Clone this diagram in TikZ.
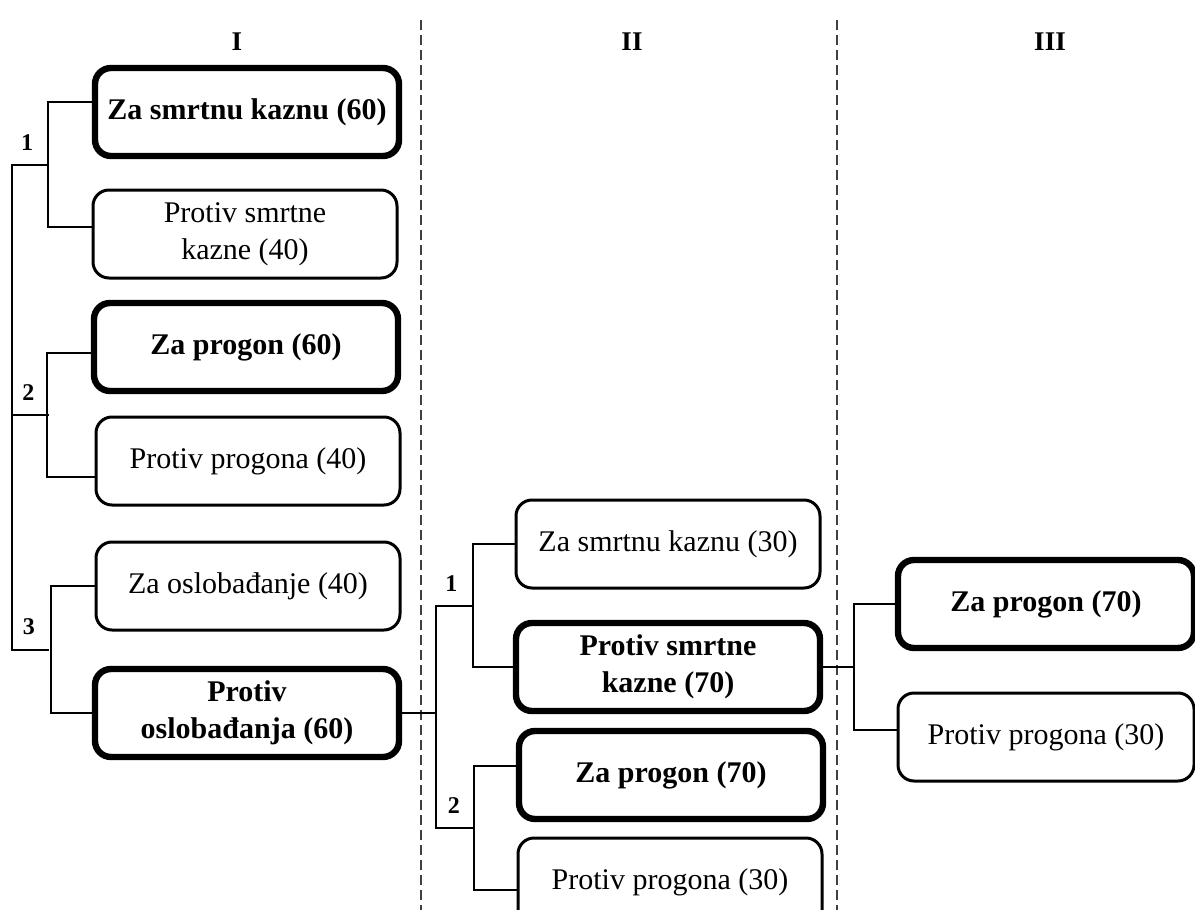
\documentclass[tikz,border=0pt]{standalone}
\usepackage{fontspec}
\setmainfont{Liberation Serif}
\usepackage{tikz}
\usetikzlibrary{
  positioning,
  calc
}

\begin{document}
\begin{tikzpicture}[x=0.5pt, y=-0.5pt,
  opt/.style={draw, rounded corners=8pt, line width=1.5pt, minimum width=152pt,
              minimum height=44pt, align=center, inner sep=2pt,
              font=\fontsize{15}{18.5}\selectfont},
  optwin/.style={opt, line width=3.2pt, font=\fontsize{15}{18.5}\selectfont\bfseries},
  optr/.style={minimum width=148pt},
  link/.style={line width=1pt},
  num/.style={font=\fontsize{12}{12}\selectfont\bfseries, inner sep=0pt},
  hdr/.style={font=\fontsize{13.5}{13.5}\selectfont\bfseries},
  colsep/.style={line width=0.6pt, gray!50!black, dash pattern=on 5pt off 2.5pt},
]
  \useasboundingbox (0,0) rectangle (1195,910);
  \clip (0,0) rectangle (1195,910);

  % Headers and dividers
  \node[hdr] (h1) at (237,42) {I};
  \node[hdr] (h2) at (632,42) {II};
  \node[hdr] (h3) at (1050,42) {III};
  \draw[colsep] (421,20) -- (421,910);
  \draw[colsep] (837,20) -- (837,910);

  % Round I
  \node[optwin] (p1) at (247,112) {Za smrtnu kaznu (60)};
  \node[opt]    (p2) at (245,234) {Protiv smrtne\\kazne (40)};
  \node[optwin] (p3) at (246,347) {Za progon (60)};
  \node[opt]    (p4) at (248,461) {Protiv progona (40)};
  \node[opt]    (p5) at (248,586) {Za oslobađanje (40)};
  \node[optwin] (p6) at (247,713) {Protiv\\oslobađanja (60)};

  \coordinate (e1) at ([yshift=5pt]p1.west);
  \coordinate (e2) at ([yshift=3.5pt]p2.west);
  \coordinate (e3) at ([yshift=-3pt]p3.west);
  \coordinate (e4) at ([yshift=-8pt]p4.west);
  \coordinate (j1) at ($(e1)!.5!(e2)+(-44,0)$);
  \coordinate (j2) at ($(e3)!.5!(e4)+(-44,0)$);
  \coordinate (j3) at ($(p5.west)!.5!(p6.west)+(-44,0)$);
  \coordinate (root) at (12,0);
  \draw[link] (e1) -- ++(-44,0) |- (e2);
  \draw[link] (e3) -- ++(-44,0) |- (e4);
  \draw[link] (p5.west) -- ++(-44,0) |- (p6.west);
  \draw[link] (j1) -- (j1 -| root) -- (j3 -| root) -- (j3);
  \draw[link] (j2 -| root) -- (j2);
  \node[num, above left=7pt and 7pt of j1] (n1) {1};
  \node[num, above left=7pt and 7pt of j2] (n2) {2};
  \node[num, above left=7pt and 7pt of j3] (n3) {3};

  % Round II
  \node[opt]    (q1) at (668,544) {Za smrtnu kaznu (30)};
  \node[optwin] (q2) at (668,667) {Protiv smrtne\\kazne (70)};
  \node[optwin] (q3) at (671,775) {Za progon (70)};
  \node[opt]    (q4) at (670,882) {Protiv progona (30)};

  \coordinate (e5) at ([yshift=4.5pt]q3.west);
  \coordinate (e6) at ([yshift=-4pt]q4.west);
  \coordinate (j4) at ($(q1.west)!.5!(q2.west)+(-42,0)$);
  \coordinate (j5) at ($(e5)!.5!(e6)+(-42,0)$);
  \coordinate (trunk) at (436,0);
  \draw[link] (q1.west) -- ++(-42,0) |- (q2.west);
  \draw[link] (e5) -- ++(-42,0) |- (e6);
  \draw[link] (p6.east) -- (p6.east -| trunk);
  \draw[link] (j4) -- (j4 -| trunk) -- (j5 -| trunk) -- (j5);
  \node[num, above left=7pt and 7pt of j4] (n4) {1};
  \node[num, above left=7pt and 7pt of j5] (n5) {2};

  % Round III
  \node[optwin, optr] (r1) at (1046,604) {Za progon (70)};
  \node[opt, optr]    (r2) at (1046,737) {Protiv progona (30)};

  \coordinate (e7) at ([yshift=3.5pt]r2.west);
  \coordinate (j6) at ($(r1.west)!.5!(e7)+(-41,0)$);
  \draw[link] (r1.west) -- ++(-41,0) |- (e7);
  \draw[link] (q2.east) -- (q2.east -| j6);
\end{tikzpicture}
\end{document}
